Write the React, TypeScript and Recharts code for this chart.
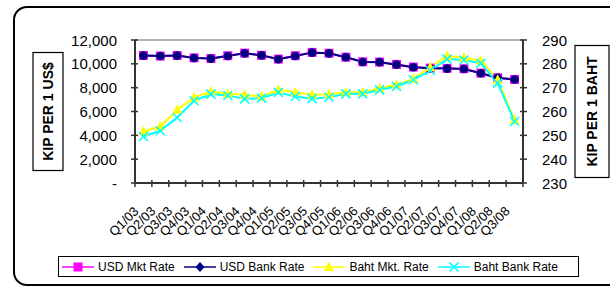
import React from 'react';
import { LineChart, Line, XAxis, YAxis, Legend, ReferenceLine } from 'recharts';

const categories = [
  'Q1/03', 'Q2/03', 'Q3/03', 'Q4/03',
  'Q1/04', 'Q2/04', 'Q3/04', 'Q4/04',
  'Q1/05', 'Q2/05', 'Q3/05', 'Q4/05',
  'Q1/06', 'Q2/06', 'Q3/06', 'Q4/06',
  'Q1/07', 'Q2/07', 'Q3/07', 'Q4/07',
  'Q1/08', 'Q2/08', 'Q3/08',
];

const usdMktRate = [10700, 10650, 10700, 10500, 10450, 10680, 10900, 10720, 10400, 10680, 10960, 10890, 10560, 10170, 10150, 9950, 9730, 9640, 9620, 9590, 9220, 8830, 8690];
const usdBankRate = [10690, 10660, 10690, 10490, 10440, 10660, 10880, 10710, 10380, 10660, 10940, 10880, 10550, 10160, 10140, 9930, 9710, 9630, 9600, 9570, 9210, 8820, 8680];
const bahtMktRate = [251.6, 253.7, 260.7, 265.9, 268.4, 267.4, 267.0, 266.3, 269.1, 268.1, 267.0, 267.2, 268.1, 268.1, 269.8, 271.2, 273.7, 278.6, 283.3, 282.6, 281.3, 273.3, 256.4];
const bahtBankRate = [249.5, 251.9, 257.5, 264.5, 267.3, 266.7, 265.3, 265.6, 268.0, 266.3, 265.4, 266.0, 267.4, 267.4, 269.1, 270.5, 273.3, 277.2, 282.0, 281.6, 280.2, 271.9, 255.8];

const leftTicks = [0, 2000, 4000, 6000, 8000, 10000, 12000];
const rightTicks = [230, 240, 250, 260, 270, 280, 290];

const data = categories.map((q, i) => ({
  q,
  usdMkt: usdMktRate[i],
  usdBank: usdBankRate[i],
  bahtMkt: bahtMktRate[i],
  bahtBank: bahtBankRate[i],
}));

const W = 610;
const H = 287;
const LEFT_W = 135;
const RIGHT_W = 87;
const TOP = 40;
const XAXIS_H = 104;
const PLOT_W = W - LEFT_W - RIGHT_W;
const BAND = PLOT_W / categories.length;
const FONT = '"Liberation Sans", Arial, Helvetica, sans-serif';
const AXIS = '#333333';

const C_MAG = '#FF00FF';
const C_NAVY = '#000080';
const C_YEL = '#FFFF00';
const C_CYAN = '#00FFFF';

const Square = ({ cx, cy, color }: any) => (
  <rect x={cx - 4.5} y={cy - 4.5} width={9} height={9} fill={color} />
);
const Diamond = ({ cx, cy, color }: any) => (
  <polygon points={`${cx},${cy - 5} ${cx + 4.5},${cy} ${cx},${cy + 5} ${cx - 4.5},${cy}`} fill={color} />
);
const Blob = ({ cx, cy, color }: any) => <circle cx={cx} cy={cy} r={4.3} fill={color} />;
const Triangle = ({ cx, cy, color }: any) => (
  <polygon points={`${cx},${cy - 5.5} ${cx + 5},${cy + 4} ${cx - 5},${cy + 4}`} fill={color} />
);
const Cross = ({ cx, cy, color }: any) => (
  <g stroke={color} strokeWidth={1.6}>
    <line x1={cx - 4.5} y1={cy - 4.5} x2={cx + 4.5} y2={cy + 4.5} />
    <line x1={cx - 4.5} y1={cy + 4.5} x2={cx + 4.5} y2={cy - 4.5} />
  </g>
);

const makeDot = (Shape: any, color: string) => (p: any) => (
  <g key={`d-${color}-${p.index}`}>
    {p.cx != null && p.cy != null ? <Shape cx={p.cx} cy={p.cy} color={color} /> : null}
  </g>
);

const LeftTick = (p: any) => {
  const { x, y, payload } = p;
  const v = payload.value;
  const label = v === 0 ? '-' : v.toLocaleString('en-US');
  return (
    <g>
      <line x1={x - 4} x2={x + 3} y1={y} y2={y} stroke={AXIS} strokeWidth={1.5} />
      <text x={x - 18} y={y + 5.5} textAnchor="end" fontSize={15} fontFamily={FONT} fill="#000">
        {label}
      </text>
    </g>
  );
};

const RightTick = (p: any) => {
  const { x, y, payload } = p;
  return (
    <g>
      <line x1={x - 3} x2={x + 4} y1={y} y2={y} stroke={AXIS} strokeWidth={1.5} />
      <text x={x + 19} y={y + 5.5} textAnchor="start" fontSize={15} fontFamily={FONT} fill="#000">
        {payload.value}
      </text>
    </g>
  );
};

const XTick = (p: any) => {
  const { x, y, payload } = p;
  const i = p.index != null ? p.index : payload.index;
  const half = BAND / 2;
  const tx = x - 4;
  const ty = y + 29;
  return (
    <g>
      <line x1={x - half} x2={x - half} y1={y - 3} y2={y + 4} stroke={AXIS} strokeWidth={1.5} />
      {i === categories.length - 1 ? (
        <line x1={x + half} x2={x + half} y1={y - 3} y2={y + 4} stroke={AXIS} strokeWidth={1.5} />
      ) : null}
      <text
        x={tx}
        y={ty}
        transform={`rotate(-45, ${tx}, ${ty})`}
        textAnchor="end"
        fontSize={13}
        fontFamily={FONT}
        fill="#000"
      >
        {payload.value}
      </text>
    </g>
  );
};

const AxisTitle = ({ viewBox, side, text, boxW, boxH }: any) => {
  const vb = viewBox || {};
  const cy = vb.y != null ? vb.y + vb.height / 2 : TOP + 71.5;
  const cx = side === 'left' ? (vb.x != null ? vb.x + 48 : 48) : (vb.x != null ? vb.x + 69 : 592);
  return (
    <g>
      <rect x={cx - boxW / 2} y={cy - boxH / 2} width={boxW} height={boxH} fill="#fff" stroke="#000" strokeWidth={1.2} />
      <text
        x={cx}
        y={cy}
        transform={`rotate(-90, ${cx}, ${cy})`}
        textAnchor="middle"
        dominantBaseline="central"
        fontSize={14}
        fontWeight="bold"
        fontFamily={FONT}
        fill="#000"
      >
        {text}
      </text>
    </g>
  );
};

const legendItems = [
  { name: 'USD Mkt Rate', color: C_MAG, Shape: Square },
  { name: 'USD Bank Rate', color: C_NAVY, Shape: Diamond },
  { name: 'Baht Mkt. Rate', color: C_YEL, Shape: Triangle },
  { name: 'Baht Bank Rate', color: C_CYAN, Shape: Cross },
];

const renderLegend = () => (
  <div
    style={{
      border: '1px solid #000',
      boxSizing: 'border-box',
      width: 521,
      height: 21,
      display: 'flex',
      alignItems: 'center',
      fontFamily: FONT,
      fontSize: 12,
      color: '#000',
      background: '#fff',
      paddingLeft: 3,
      whiteSpace: 'nowrap',
    }}
  >
    {legendItems.map((it) => (
      <div key={it.name} style={{ display: 'flex', alignItems: 'center', marginRight: 9 }}>
        <svg width={32} height={12} style={{ display: 'block' }}>
          <line x1={0} x2={32} y1={6} y2={6} stroke={it.color} strokeWidth={1.5} />
          <it.Shape cx={16} cy={6} color={it.color} />
        </svg>
        <span style={{ marginLeft: 4 }}>{it.name}</span>
      </div>
    ))}
  </div>
);

export default function App() {
  return (
    <div style={{ position: 'absolute', left: 0, top: 0, width: W, height: H, background: '#fff', overflow: 'hidden' }}>
      <LineChart
        width={W}
        height={H}
        data={data}
        margin={{ top: TOP, right: 0, bottom: 0, left: 0 }}
        style={{ fontFamily: FONT }}
      >
        <XAxis
          dataKey="q"
          scale="band"
          height={XAXIS_H}
          interval={0}
          tickSize={0}
          tickMargin={0}
          tickLine={false}
          axisLine={{ stroke: AXIS, strokeWidth: 2 }}
          tick={<XTick />}
        />
        <YAxis
          yAxisId="left"
          orientation="left"
          width={LEFT_W}
          domain={[0, 12000]}
          ticks={leftTicks}
          interval={0}
          tickSize={0}
          tickMargin={0}
          tickLine={false}
          axisLine={{ stroke: AXIS, strokeWidth: 2 }}
          tick={<LeftTick />}
          label={{ content: (p: any) => <AxisTitle viewBox={p.viewBox} side="left" text="KIP PER 1 US$" boxW={30} boxH={118} /> }}
        />
        <YAxis
          yAxisId="right"
          orientation="right"
          width={RIGHT_W}
          domain={[230, 290]}
          ticks={rightTicks}
          interval={0}
          tickSize={0}
          tickMargin={0}
          tickLine={false}
          axisLine={{ stroke: AXIS, strokeWidth: 2 }}
          tick={<RightTick />}
          label={{ content: (p: any) => <AxisTitle viewBox={p.viewBox} side="right" text="KIP PER 1 BAHT" boxW={34} boxH={132} /> }}
        />
        <ReferenceLine yAxisId="left" y={12000} stroke="#9a9a9a" strokeWidth={1.5} />
        <Line
          yAxisId="left"
          dataKey="usdMkt"
          name="USD Mkt Rate"
          stroke={C_MAG}
          strokeWidth={2}
          dot={makeDot(Square, C_MAG)}
          activeDot={false}
          isAnimationActive={false}
        />
        <Line
          yAxisId="left"
          dataKey="usdBank"
          name="USD Bank Rate"
          stroke={C_NAVY}
          strokeWidth={2}
          dot={makeDot(Blob, C_NAVY)}
          activeDot={false}
          isAnimationActive={false}
        />
        <Line
          yAxisId="right"
          dataKey="bahtMkt"
          name="Baht Mkt. Rate"
          stroke={C_YEL}
          strokeWidth={2}
          dot={makeDot(Triangle, C_YEL)}
          activeDot={false}
          isAnimationActive={false}
        />
        <Line
          yAxisId="right"
          dataKey="bahtBank"
          name="Baht Bank Rate"
          stroke={C_CYAN}
          strokeWidth={2}
          dot={makeDot(Cross, C_CYAN)}
          activeDot={false}
          isAnimationActive={false}
        />
        <Legend
          layout="horizontal"
          verticalAlign="middle"
          align="center"
          content={renderLegend}
          wrapperStyle={{ position: 'absolute', left: 58, top: 256, width: 521, height: 21 }}
        />
      </LineChart>
      <div
        style={{
          position: 'absolute',
          left: 13,
          top: 6,
          width: 660,
          height: 280,
          border: '2px solid #000',
          borderRadius: 14,
          boxSizing: 'border-box',
          pointerEvents: 'none',
        }}
      />
    </div>
  );
}
